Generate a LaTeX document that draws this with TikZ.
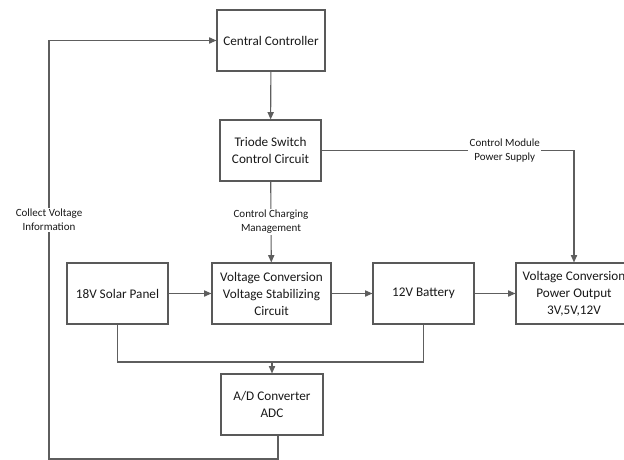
\documentclass[tikz,border=0pt]{standalone}
\usepackage{fontspec}
\setmainfont{Carlito}
\usepackage{xcolor}
\usetikzlibrary{arrows.meta,positioning,shadows}

\definecolor{linegray}{HTML}{5E5E5E}
\definecolor{boxgray}{HTML}{595959}

\begin{document}
\begin{tikzpicture}[x=1pt, y=-1pt,
      font=\fontsize{13.2}{17}\selectfont,
      block/.style={draw=boxgray, line width=1.1pt, fill=white, align=center,
        minimum height=61pt, inner sep=2pt, text=black!90,
        drop shadow={shadow xshift=1.2pt, shadow yshift=-1.2pt, opacity=0.25}},
      tag/.style={fill=white, align=center, inner sep=1.5pt, text=black!90,
        font=\fontsize{11}{14}\selectfont},
      arrow/.style={-{Triangle[length=2.6mm, width=2.2mm]}, line width=1.1pt,
        draw=linegray},
      wire/.style={line width=1.1pt, draw=linegray}]
    \useasboundingbox (0,0) rectangle (624,460);
    % blocks
    \node[block, minimum width=108pt] (cc) at (271,40.5) {Central Controller};
    \node[block, minimum width=101pt] (triode) at (270.5,150.5)
      {Triode Switch\\Control Circuit};
    \node[block, minimum width=101pt] (solar) at (117.5,293.5) {18V Solar Panel};
    \node[block, minimum width=119pt] (vcs) at (271.5,293.5)
      {Voltage Conversion\\Voltage Stabilizing\\Circuit};
    \node[block, minimum width=101pt] (battery) at (423.5,293.5) {12V Battery};
    \node[block, minimum width=116pt] (pwr) at (574,293.5)
      {Voltage Conversion\\Power Output\\3V,5V,12V};
    \node[block, minimum width=102pt] (adc) at (272,404.5)
      {A/D Converter\\ADC};
    % control paths
    \draw[arrow] (cc) -- (triode);
    \draw[arrow] (triode) -- (vcs)
      node[tag, pos=0.5] (chargetag) {Control Charging\\Management};
    \draw[arrow] (triode.east) -| (pwr.north)
      node[tag, pos=0.363] (supplytag) {Control Module\\Power Supply};
    % power chain
    \draw[arrow] (solar) -- (vcs);
    \draw[arrow] (vcs) -- (battery);
    \draw[arrow] (battery) -- (pwr);
    % sampling bus to the ADC
    \coordinate (busmid) at (272,362);
    \draw[wire] (solar.south) |- (battery.south |- busmid) -- (battery.south);
    \draw[arrow] (busmid) -- (adc.north);
    % feedback loop to the controller
    \coordinate (loopcorner) at (49,459);
    \draw[arrow] ([xshift=6pt]adc.south) |- (loopcorner) |- (cc.west);
    \node[tag] (collecttag) at (49,220) {Collect Voltage\\Information};
\end{tikzpicture}
\end{document}
